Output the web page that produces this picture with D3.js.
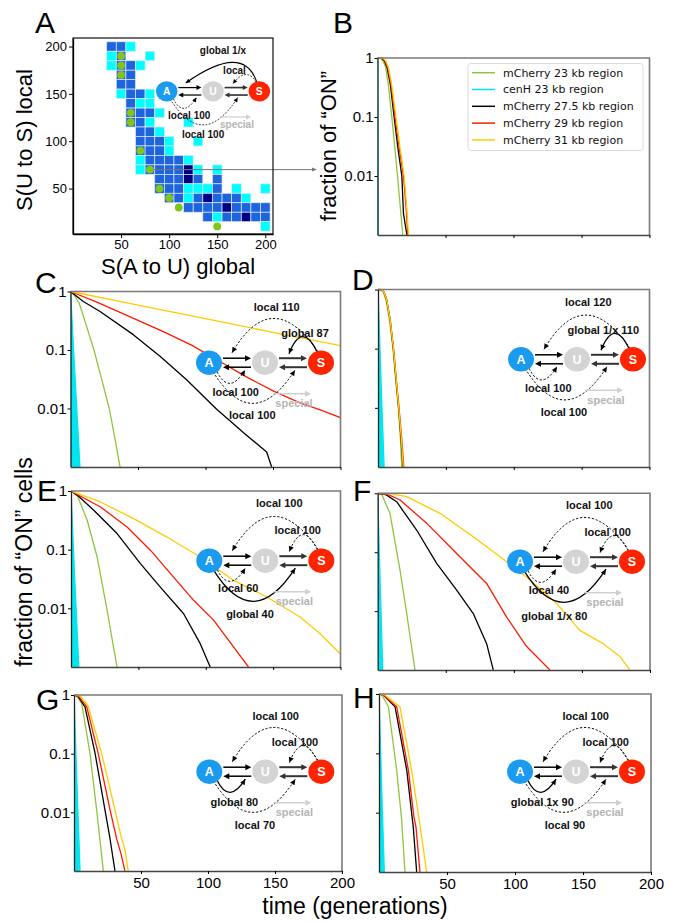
<!DOCTYPE html>
<html>
<head>
<meta charset="utf-8">
<script src="https://cdn.jsdelivr.net/npm/d3@7"></script>
<style>
  body { margin: 0; background: #fff; }
  svg text { font-family: "Liberation Sans", Arial, sans-serif; }
</style>
</head>
<body>
<script>
'use strict';

// ---- data ----
const seriesNames = ['mCherry 23 kb region', 'cenH 23 kb region', 'mCherry 27.5 kb region', 'mCherry 29 kb region', 'mCherry 31 kb region'];
const seriesColors = ['#8cc63f', '#00e5f0', '#000000', '#ff1a00', '#ffcc00'];
const logTicks = [1, 0.1, 0.01];
const timeTicks = [50, 100, 150, 200];

// panel A: heat map, columns = S(A to U) global, rows = S(U to S) local
// level 0 = empty, 1 = cyan, 2 = blue, 3 = dark blue
const heatCols = [40, 50, 60, 70, 80, 90, 100, 110, 120, 130, 140, 150, 160, 170, 180, 190, 200];
const heatRows = [200, 190, 180, 170, 160, 150, 140, 130, 120, 110, 100, 90, 80, 70, 60, 50, 40, 30, 20, 10];
const heatLevels = [
  '22100000000000000',
  '12001000000000000',
  '12210000000000000',
  '02200000000000000',
  '02200000000000000',
  '01221000000000000',
  '00211000000000000',
  '00222100000000000',
  '00221000100000000',
  '00022100000000000',
  '00022210010000000',
  '00022210000000000',
  '00012222100000000',
  '00012222310100000',
  '00000222320200000',
  '00000222111201001',
  '00000022123222100',
  '00000000222232222',
  '00000000002122322',
  '00000000000000001'
];
const heatColors = [null, '#00ffff', '#1e64dc', '#000080'];
const bestX = [50, 50, 50, 60, 60, 70, 80, 90, 100, 110, 150];
const bestY = [190, 180, 170, 130, 120, 90, 70, 50, 40, 30, 10];
const aTicks = [50, 100, 150, 200];

// decay curves [generation, fraction ON], in seriesNames order
const curvesB = [
  [[0,1],[2,0.99],[4,0.9],[6,0.7],[8,0.35],[10.5,0.1],[12.5,0.035],[14.7,0.01],[16.5,0.0035],[18.6,0.001]],
  [[0,1],[0.4,0.001]],
  [[0,1],[3,0.99],[5,0.9],[7,0.7],[9.5,0.35],[12.2,0.1],[15,0.03],[17.9,0.01],[19.1,0.0023],[21.6,0.001]],
  [[0,1],[3.5,0.99],[5.5,0.9],[7.5,0.7],[10,0.35],[12.9,0.1],[16,0.03],[19.1,0.01],[21,0.003],[22.3,0.001]],
  [[0,1],[4,0.99],[6,0.9],[8,0.7],[10.5,0.35],[13.6,0.1],[16.6,0.03],[19.6,0.01],[21.5,0.003],[22.8,0.001]]
];
const curvesC = [
  [[0,1],[3,0.85],[6.5,0.63],[12,0.25],[17.4,0.1],[23,0.032],[28.7,0.01],[33,0.003],[36.7,0.001]],
  [[0,1],[3.5,0.03],[7,0.001]],
  [[0,1],[9.5,0.675],[21.9,0.456],[46.5,0.183],[66.3,0.078],[86,0.031],[108.3,0.0097],[128,0.0039],[145.3,0.0018],[149,0.001]],
  [[0,1],[20,0.65],[45,0.36],[70,0.2],[90,0.12],[110,0.065],[130,0.035],[150,0.02],[170,0.0125],[185,0.0095],[200,0.007]],
  [[0,1],[50,0.587],[100,0.345],[150,0.2],[200,0.119]]
];
const curvesD = [
  [[0,1],[2,0.99],[4,0.9],[6,0.65],[8.5,0.3],[11,0.1],[13,0.03],[15,0.01],[16.5,0.003],[17.5,0.001]],
  [[0,1],[2.2,0.03],[4.5,0.001]],
  [[0,1],[2.5,0.99],[4.5,0.9],[6.5,0.65],[9,0.3],[11.3,0.1],[13.3,0.03],[15.2,0.01],[17,0.003],[18.4,0.001]],
  [[0,1],[2.5,0.99],[4.5,0.9],[6.5,0.65],[9,0.3],[11.5,0.1],[13.5,0.03],[15.5,0.01],[17.5,0.003],[19,0.001]],
  [[0,1],[2.5,0.99],[4.5,0.9],[6.5,0.65],[9,0.3],[11.4,0.1],[13.4,0.03],[15.3,0.01],[17.2,0.003],[18.6,0.001]]
];
const curvesE = [
  [[0,1],[4.6,0.85],[12,0.317],[19.4,0.075],[26.8,0.0093],[30.5,0.003],[34.2,0.001]],
  [[0,1],[2.8,0.03],[5.8,0.001]],
  [[0,1],[6,0.8],[16.9,0.47],[34.2,0.188],[51.5,0.058],[66.3,0.023],[83.6,0.0081],[95.9,0.0025],[103.3,0.001]],
  [[0,1],[21.9,0.534],[41.6,0.244],[58.9,0.098],[76.1,0.034],[91,0.0137],[105.8,0.0063],[120.6,0.0022],[131.7,0.001]],
  [[0,1],[21.9,0.65],[46.5,0.338],[71.2,0.164],[95.9,0.075],[120.6,0.03],[145.3,0.0156],[170,0.0071],[184.8,0.0037],[199.6,0.0017]]
];
const curvesF = [
  [[0,1],[3,0.95],[9,0.457],[16.4,0.0496],[21.3,0.0091],[27.4,0.001]],
  [[0,1],[1.8,0.03],[3.7,0.001]],
  [[0,1],[6,0.95],[13.9,0.72],[28.6,0.238],[43.3,0.0645],[58,0.0227],[70.2,0.0091],[80,0.0028],[84.9,0.001]],
  [[0,1],[7,0.97],[16.4,0.77],[36,0.309],[58,0.095],[80,0.0295],[94.7,0.0079],[109.4,0.0025],[126.5,0.001]],
  [[0,1],[10,0.98],[21.3,0.877],[45.7,0.457],[70.2,0.183],[89.8,0.0835],[109.4,0.038],[131.4,0.0135],[148.5,0.0047],[165.6,0.0028],[177.9,0.0017],[185.2,0.001]]
];
const curvesG = [
  [[0,1],[2,0.97],[5.7,0.72],[11.9,0.102],[16.9,0.011],[21.9,0.001]],
  [[0,1],[2.2,0.03],[4.5,0.001]],
  [[0,1],[3,0.95],[8.2,0.63],[15.7,0.102],[23.1,0.011],[26.5,0.004],[30.6,0.001]],
  [[0,1],[3.5,0.96],[9.5,0.63],[18.1,0.1],[26.9,0.011],[31.9,0.0035],[35,0.002],[38,0.001]],
  [[0,1],[4.5,0.97],[10.5,0.65],[20.7,0.1],[29.3,0.0145],[35,0.004],[38,0.0023],[40.5,0.001]]
];
const curvesH = [
  [[0,1],[2,0.97],[6.9,0.61],[13,0.052],[16.7,0.0074],[19.1,0.001]],
  [[0,1],[1.9,0.03],[3.9,0.001]],
  [[0,1],[3,0.97],[11.8,0.61],[20.4,0.052],[25.2,0.0057],[27.7,0.001]],
  [[0,1],[3,0.97],[13,0.61],[21.6,0.052],[25.5,0.009],[27.2,0.0057],[30.1,0.001]],
  [[0,1],[4,0.97],[15.4,0.61],[24,0.052],[31.4,0.0039],[35,0.001]]
];

// ---- layout ----
const panels = [
  {key: 'B', curves: curvesB, box: [377.5, 649.5, 58, 235], yLab: true, xLab: false},
  {key: 'C', curves: curvesC, box: [70.5, 340.5, 291.5, 467], yLab: true, xLab: false},
  {key: 'D', curves: curvesD, box: [378, 649.5, 289.5, 467], yLab: false, xLab: false},
  {key: 'E', curves: curvesE, box: [71, 340.5, 491, 667], yLab: true, xLab: false},
  {key: 'F', curves: curvesF, box: [377.7, 650, 493.3, 670], yLab: false, xLab: false},
  {key: 'G', curves: curvesG, box: [74, 342, 695, 871], yLab: true, xLab: true},
  {key: 'H', curves: curvesH, box: [379, 651, 694, 872], yLab: false, xLab: true}
];

const panelLetters = [['A', 35, 33], ['B', 333, 33], ['C', 35, 293], ['D', 352, 290],
  ['E', 37, 501], ['F', 353, 501], ['G', 36, 710], ['H', 353, 708]];

// state diagram arcs at unit scale, A node at origin, U at 56, S at 112
const arcShapes = {
  topBig: [[109, -11], [63, -78], [23, -10]],
  topSmall: [[108, -11], [93, -42], [80, -9]],
  botSmall: [[8, 9], [20, 33], [36, 7.5]],
  botBig: [[4, 9], [43.5, 73], [86, 7.5]]
};

const diagrams = [
  {ax: 166.7, ay: 91.3, s: 0.827, font: 10,
   ctrl: {topBig: [92.8, -59.4], topSmall: [96.6, -30.6]},
   arcs: [['topBig', 'solid', 'global 1/x', 68, -49], ['topSmall', 'dash', 'local', 82, -24.8],
          ['botSmall', 'dash', 'local 100', 27.2, 29.1], ['botBig', 'dash', 'local 100', 44, 51.9]]},
  {ax: 209, ay: 362.7, s: 1, font: 11,
   arcs: [['topBig', 'dash', 'local 110', 67.7, -56], ['topSmall', 'solid', 'global 87', 96, -29.4],
          ['botSmall', 'dash', 'local 100', 26.7, 29], ['botBig', 'dash', 'local 100', 43.3, 52.3]]},
  {ax: 521, ay: 359.3, s: 1, font: 11,
   arcs: [['topBig', 'dash', 'local 120', 67.3, -57], ['topSmall', 'solid', 'global 1/x 110', 82.3, -29.3],
          ['botSmall', 'dash', 'local 100', 27.3, 28.4], ['botBig', 'dash', 'local 100', 43, 52.4]]},
  {ax: 209.3, ay: 560.7, s: 1, font: 11,
   arcs: [['topBig', 'dash', 'local 100', 70, -57.4], ['topSmall', 'dash', 'local 100', 88.4, -30.7],
          ['botSmall', 'dash', 'local 60', 29, 27.6], ['botBig', 'solid', 'global 40', 40.7, 53.6]]},
  {ax: 520, ay: 561.7, s: 1, font: 11,
   arcs: [['topBig', 'dash', 'local 100', 69.3, -56.7], ['topSmall', 'dash', 'local 100', 87.7, -30],
          ['botSmall', 'dash', 'local 40', 29, 28.3], ['botBig', 'solid', 'global 1/x 80', 34.3, 54]]},
  {ax: 209.3, ay: 771.7, s: 1, font: 11,
   arcs: [['topBig', 'dash', 'local 100', 66.4, -56], ['topSmall', 'dash', 'local 100', 85.7, -30],
          ['botSmall', 'solid', 'global 80', 25, 30.6], ['botBig', 'dash', 'local 70', 45.7, 53.3]]},
  {ax: 520, ay: 771.7, s: 1, font: 11,
   arcs: [['topBig', 'dash', 'local 100', 65.7, -56], ['topSmall', 'dash', 'local 100', 85.7, -30],
          ['botSmall', 'solid', 'global 1x 90', 22.3, 30.6], ['botBig', 'dash', 'local 90', 45, 53.3]]}
];

const svg = d3.select('body').append('svg')
  .attr('width', 674)
  .attr('height', 922);

// filled arrow head with tip at (x2,y2)
function arrowHead(g, x1, y1, x2, y2, len, hw, color) {
  const dx = x2 - x1, dy = y2 - y1;
  const n = Math.sqrt(dx * dx + dy * dy) || 1;
  const ux = dx / n, uy = dy / n;
  const bx = x2 - ux * len, by = y2 - uy * len;
  g.append('path')
    .attr('d', `M${x2},${y2}L${bx - uy * hw},${by + ux * hw}L${bx + uy * hw},${by - ux * hw}Z`)
    .attr('fill', color);
}

function styleAxis(ax, size) {
  ax.selectAll('text').attr('font-size', size).attr('fill', '#000');
  ax.selectAll('line').attr('stroke', '#000');
  ax.select('.domain').attr('stroke', '#000').attr('stroke-width', 1.3);
}

/*
 Panel A: heat map
 */
function drawPanelA() {
  const x = d3.scaleLinear().domain([0, 208]).range([73, 273]);
  const y = d3.scaleLinear().domain([2, 209]).range([234, 38]);
  const g = svg.append('g');

  const cells = [];
  heatLevels.forEach((row, i) => {
    row.split('').forEach((c, j) => {
      if (+c > 0) cells.push({sx: heatCols[j], sy: heatRows[i], level: +c});
    });
  });

  g.selectAll('rect.cell')
    .data(cells)
    .enter()
    .append('rect')
    .attr('class', 'cell')
    .attr('x', d => x(d.sx - 5))
    .attr('y', d => y(d.sy + 5))
    .attr('width', d => x(d.sx + 5) - x(d.sx - 5))
    .attr('height', d => y(d.sy - 5) - y(d.sy + 5))
    .attr('fill', d => heatColors[d.level])
    .attr('stroke', '#dfe8ff')
    .attr('stroke-width', 0.7);

  // guide arrow from the chosen point to panel B
  const gx = x(bestX[6]), gy = y(bestY[6]);
  g.append('line')
    .attr('x1', gx).attr('y1', gy).attr('x2', 313).attr('y2', gy)
    .attr('stroke', '#777').attr('stroke-width', 1);
  arrowHead(g, gx, gy, 317, gy, 5, 2, '#777');

  g.selectAll('circle.best')
    .data(bestX.map((v, i) => [v, bestY[i]]))
    .enter()
    .append('circle')
    .attr('class', 'best')
    .attr('cx', d => x(d[0]))
    .attr('cy', d => y(d[1]))
    .attr('r', 3.9)
    .attr('fill', '#80c41c');

  g.append('rect')
    .attr('x', 73).attr('y', 38).attr('width', 200).attr('height', 196)
    .attr('fill', 'none').attr('stroke', '#111').attr('stroke-width', 1.2);

  const ya = g.append('g').attr('transform', 'translate(73,0)')
    .call(d3.axisLeft(y).tickValues(aTicks).tickSize(4).tickSizeOuter(0).tickPadding(2));
  styleAxis(ya, 13);
  const xa = g.append('g').attr('transform', 'translate(0,234)')
    .call(d3.axisBottom(x).tickValues(aTicks).tickSize(4).tickSizeOuter(0).tickPadding(2));
  styleAxis(xa, 13);

  g.append('text')
    .attr('x', 178).attr('y', 274)
    .attr('text-anchor', 'middle')
    .attr('font-size', 22)
    .text('S(A to U) global');
  g.append('text')
    .attr('transform', 'translate(32,140) rotate(-90)')
    .attr('text-anchor', 'middle')
    .attr('font-size', 22)
    .text('S(U to S) local');
}

/*
 Panels B-H: decay curves on a log scale
 */
function drawDecay(p) {
  const [l, r, t, b] = p.box;
  const x = d3.scaleLinear().domain([0, 200]).range([l, r]);
  const y = d3.scaleLog().domain([0.001, 1]).range([b, t]);
  const g = svg.append('g');

  svg.append('clipPath').attr('id', 'clip' + p.key)
    .append('rect').attr('x', l).attr('y', t - 1).attr('width', r - l).attr('height', b - t + 1);
  const plot = g.append('g').attr('clip-path', `url(#clip${p.key})`);

  const line = d3.line().x(d => x(d[0])).y(d => y(d[1]));
  const wedge = d3.area().x0(x(0)).x1(d => x(d[0])).y(d => y(d[1]));

  p.curves.forEach((c, i) => {
    if (i === 1) {
      plot.append('path').datum(c).attr('d', wedge).attr('fill', seriesColors[i]);
    }
    plot.append('path')
      .datum(c)
      .attr('d', line)
      .attr('fill', 'none')
      .attr('stroke', seriesColors[i])
      .attr('stroke-width', 1.3)
      .attr('stroke-linejoin', 'round');
  });

  // top and right frame
  g.append('path')
    .attr('d', `M${l},${t}H${r}V${b}`)
    .attr('fill', 'none').attr('stroke', '#7a7a7a').attr('stroke-width', 1.6);

  const ya = g.append('g').attr('transform', `translate(${l},0)`)
    .call(d3.axisLeft(y).tickValues(logTicks).tickSize(3).tickSizeOuter(0).tickPadding(1)
      .tickFormat(p.yLab ? d3.format('~g') : ''));
  styleAxis(ya, 15);
  const xa = g.append('g').attr('transform', `translate(0,${b})`)
    .call(d3.axisBottom(x).tickValues(timeTicks).tickSize(3).tickSizeOuter(0).tickPadding(3)
      .tickFormat(p.xLab ? d3.format('d') : ''));
  styleAxis(xa, 15);
  ya.select('.domain').attr('stroke', '#222');
  xa.select('.domain').attr('stroke', '#444').attr('stroke-width', 1.6);
}

/*
 State diagram A <-> U <-> S
 */
function drawDiagram(d) {
  const s = d.s;
  const g = svg.append('g').attr('transform', `translate(${d.ax},${d.ay}) scale(${s})`);
  const fs = d.font / s;

  // horizontal transitions
  const pairs = [[14, 42, -4.5, '#000', 1.5], [42, 14, 4.5, '#000', 1.5],
                 [70, 98, -4.5, '#333', 2], [98, 70, 4.5, '#333', 2]];
  pairs.forEach(([x1, x2, yy, col, w]) => {
    const dir = x2 > x1 ? 1 : -1;
    g.append('line').attr('x1', x1).attr('y1', yy).attr('x2', x2 - dir * 5).attr('y2', yy)
      .attr('stroke', col).attr('stroke-width', w);
    arrowHead(g, x1, yy, x2, yy, 6, 3, col);
  });

  // curved feedback arrows
  d.arcs.forEach(([shape, kind, label, lx, ly]) => {
    const pts = arcShapes[shape];
    const p0 = pts[0], p2 = pts[2];
    const c = (d.ctrl && d.ctrl[shape]) || pts[1];
    const dash = kind === 'dash';
    g.append('path')
      .attr('d', `M${p0[0]},${p0[1]}Q${c[0]},${c[1]} ${p2[0]},${p2[1]}`)
      .attr('fill', 'none')
      .attr('stroke', '#000')
      .attr('stroke-width', dash ? 1 : 1.3)
      .attr('stroke-dasharray', dash ? '2.2,1.8' : null);
    arrowHead(g, c[0], c[1], p2[0], p2[1], 5.5, 2.6, '#000');
    g.append('text')
      .attr('x', lx).attr('y', ly).attr('dy', '0.35em')
      .attr('text-anchor', 'middle')
      .attr('font-size', fs)
      .attr('font-weight', 'bold')
      .attr('fill', '#111')
      .text(label);
  });

  // "special" pathway
  g.append('line').attr('x1', 64).attr('y1', 31).attr('x2', 96).attr('y2', 31)
    .attr('stroke', '#cfcfcf').attr('stroke-width', 1.5);
  arrowHead(g, 64, 31, 102, 31, 6, 3, '#cfcfcf');
  g.append('text')
    .attr('x', 85).attr('y', 40.5).attr('dy', '0.35em')
    .attr('text-anchor', 'middle')
    .attr('font-size', fs)
    .attr('font-weight', 'bold')
    .attr('fill', '#b4b4b4')
    .text('special');

  // nodes
  const nodes = [['A', 0, '#1a9bf0'], ['U', 56, '#d4d4d4'], ['S', 112, '#ff2400']];
  nodes.forEach(([name, nx, col]) => {
    g.append('ellipse').attr('cx', nx).attr('cy', 0).attr('rx', 13).attr('ry', 12.2).attr('fill', col);
    g.append('text')
      .attr('x', nx).attr('y', 0).attr('dy', '0.36em')
      .attr('text-anchor', 'middle')
      .attr('font-size', 12.5)
      .attr('font-weight', 'bold')
      .attr('fill', '#fff')
      .text(name);
  });
}

function drawLegend() {
  const g = svg.append('g');
  g.append('rect')
    .attr('x', 468).attr('y', 63.5).attr('width', 175).attr('height', 87)
    .attr('rx', 3)
    .attr('fill', '#fff').attr('fill-opacity', 0.85)
    .attr('stroke', '#dcdcdc');
  seriesNames.forEach((name, i) => {
    const yy = 72.7 + i * 16.8;
    g.append('line').attr('x1', 472).attr('x2', 495).attr('y1', yy).attr('y2', yy)
      .attr('stroke', seriesColors[i]).attr('stroke-width', 1.5);
    g.append('text')
      .attr('x', 503).attr('y', yy).attr('dy', '0.35em')
      .attr('font-size', 11)
      .style('font-family', '"DejaVu Sans", sans-serif')
      .attr('fill', '#111')
      .text(name);
  });
}

drawPanelA();
panels.forEach(drawDecay);
diagrams.forEach(drawDiagram);
drawLegend();

// panel letters and shared titles
panelLetters.forEach(([t, x, y]) => {
  svg.append('text').attr('x', x).attr('y', y).attr('font-size', 30).text(t);
});
svg.append('text')
  .attr('transform', 'translate(336,146) rotate(-90)')
  .attr('text-anchor', 'middle')
  .attr('font-size', 22)
  .text('fraction of \u201cON\u201d');
svg.append('text')
  .attr('transform', 'translate(32,562) rotate(-90)')
  .attr('text-anchor', 'middle')
  .attr('font-size', 23)
  .text('fraction of \u201cON\u201d cells');
svg.append('text')
  .attr('x', 355).attr('y', 914)
  .attr('text-anchor', 'middle')
  .attr('font-size', 23)
  .text('time (generations)');
</script>
</body>
</html>
